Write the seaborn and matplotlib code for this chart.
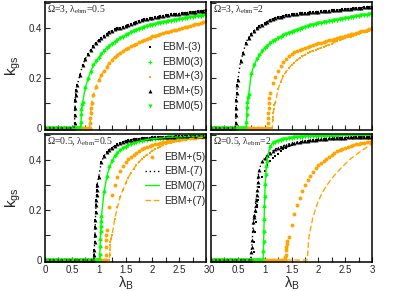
import numpy as np
import pandas as pd
import matplotlib
matplotlib.use("Agg")
import matplotlib.pyplot as plt
import seaborn as sns
from matplotlib.ticker import MultipleLocator, FuncFormatter

# lambda_B sampling grid shared by all curves (0 .. 3, step 0.05)
lam = np.round(np.linspace(0, 3, 61), 3)

# ---------------- Omega=3, lambda_ebm=0.5 ----------------
tl_black = [0, 0, 0, 0, 0, 0, 0, 0, 0, 0, 0,
            0.02, 0.17, 0.21, 0.25, 0.275, 0.295, 0.31, 0.325, 0.34, 0.35,
            0.36, 0.368, 0.376, 0.382, 0.388, 0.393, 0.397, 0.40, 0.404, 0.408,
            0.412, 0.416, 0.42, 0.424, 0.428, 0.431, 0.434, 0.436, 0.438, 0.44,
            0.442, 0.444, 0.446, 0.448, 0.45, 0.452, 0.453, 0.454, 0.455, 0.456,
            0.458, 0.459, 0.46, 0.461, 0.463, 0.464, 0.466, 0.467, 0.468, 0.47]
tl_black_jx = [0.54, 0.555, 0.56, 0.565, 0.57, 0.58]
tl_black_jy = [0.0, 0.05, 0.08, 0.11, 0.13, 0.15]

tl_green = [0, 0, 0, 0, 0, 0, 0, 0, 0, 0, 0, 0, 0, 0,
            0.10, 0.16, 0.195, 0.225, 0.25, 0.265, 0.28, 0.295, 0.307, 0.318,
            0.328, 0.336, 0.344, 0.351, 0.358, 0.364, 0.37, 0.376, 0.381, 0.386,
            0.391, 0.396, 0.40, 0.403, 0.406, 0.409, 0.412, 0.415, 0.417, 0.42,
            0.422, 0.424, 0.426, 0.428, 0.43, 0.432, 0.434, 0.436, 0.438, 0.44,
            0.441, 0.443, 0.445, 0.446, 0.448, 0.449, 0.45]
tl_green_jx = [0.66, 0.67, 0.675, 0.68, 0.69]
tl_green_jy = [0.0, 0.02, 0.05, 0.07, 0.09]

tl_orange = [0, 0, 0, 0, 0, 0, 0, 0, 0, 0, 0, 0, 0, 0, 0, 0, 0,
             0.06, 0.13, 0.165, 0.19, 0.21, 0.228, 0.245, 0.26, 0.272, 0.283,
             0.292, 0.30, 0.307, 0.314, 0.32, 0.326, 0.331, 0.336, 0.341, 0.346,
             0.351, 0.356, 0.36, 0.365, 0.368, 0.372, 0.375, 0.378, 0.381, 0.384,
             0.387, 0.39, 0.392, 0.395, 0.398, 0.401, 0.404, 0.407, 0.41, 0.413,
             0.416, 0.419, 0.422, 0.425]
tl_orange_jx = [0.83, 0.84, 0.845, 0.86, 0.87]
tl_orange_jy = [0.0, 0.02, 0.04, 0.08, 0.10]

# ---------------- Omega=3, lambda_ebm=2 ----------------
tr_black = [0, 0, 0, 0, 0, 0, 0, 0, 0, 0,
            0.19, 0.265, 0.30, 0.34, 0.36, 0.376, 0.387, 0.397, 0.405, 0.412,
            0.418, 0.424, 0.43, 0.434, 0.438, 0.441, 0.444, 0.447, 0.449, 0.451,
            0.453, 0.455, 0.456, 0.457, 0.458, 0.459, 0.46, 0.461, 0.462, 0.463,
            0.464, 0.465, 0.466, 0.467, 0.468, 0.469, 0.47, 0.471, 0.472, 0.473,
            0.474, 0.475, 0.476, 0.477, 0.478, 0.479, 0.48, 0.481, 0.482, 0.483,
            0.484]
tr_black_jx = [0.46, 0.465, 0.47, 0.475, 0.48, 0.49]
tr_black_jy = [0.02, 0.05, 0.08, 0.11, 0.14, 0.17]

tr_green = [0, 0, 0, 0, 0, 0, 0, 0, 0, 0, 0, 0, 0, 0,
            0.13, 0.215, 0.25, 0.273, 0.29, 0.305, 0.318, 0.328, 0.337, 0.345,
            0.352, 0.358, 0.364, 0.37, 0.375, 0.38, 0.384, 0.388, 0.392, 0.396,
            0.40, 0.403, 0.406, 0.409, 0.412, 0.415, 0.417, 0.419, 0.421, 0.423,
            0.425, 0.427, 0.429, 0.431, 0.433, 0.435, 0.437, 0.439, 0.441, 0.443,
            0.445, 0.447, 0.449, 0.45, 0.452, 0.453, 0.455]
tr_green_jx = [0.66, 0.665, 0.67, 0.68, 0.69]
tr_green_jy = [0.02, 0.05, 0.08, 0.10, 0.12]

tr_orange_hi = [0, 0, 0, 0, 0, 0, 0, 0, 0, 0, 0, 0, 0, 0, 0, 0, 0, 0, 0, 0, 0, 0,
                0.14, 0.18, 0.205, 0.228, 0.248, 0.264, 0.276, 0.286, 0.294, 0.301,
                0.307, 0.312, 0.316, 0.32, 0.324, 0.328, 0.331, 0.334, 0.337, 0.34,
                0.343, 0.346, 0.349, 0.352, 0.355, 0.358, 0.361, 0.364, 0.367, 0.37,
                0.373, 0.376, 0.379, 0.382, 0.385, 0.388, 0.391, 0.394, 0.397]
tr_orange_hi_jx = [1.06, 1.065, 1.07, 1.075, 1.08, 1.09]
tr_orange_hi_jy = [0.02, 0.04, 0.06, 0.08, 0.10, 0.12]

tr_orange_lo = [0, 0, 0, 0, 0, 0, 0, 0, 0, 0, 0, 0, 0, 0, 0, 0, 0, 0, 0, 0, 0, 0, 0,
                0.03, 0.10, 0.155, 0.185, 0.207, 0.225, 0.238, 0.25, 0.26, 0.27,
                0.278, 0.285, 0.292, 0.298, 0.303, 0.308, 0.312, 0.316, 0.32, 0.324,
                0.328, 0.332, 0.336, 0.341, 0.345, 0.349, 0.353, 0.357, 0.361, 0.364,
                0.368, 0.371, 0.375, 0.378, 0.381, 0.384, 0.387, 0.39]
tr_orange_lo_jx = [1.14, 1.155, 1.16, 1.17, 1.18]
tr_orange_lo_jy = [0.0, 0.045, 0.06, 0.075, 0.09]

# ---------------- Omega=0.5, lambda_ebm=0.5 ----------------
bl_black = [0, 0, 0, 0, 0, 0, 0, 0, 0, 0, 0, 0, 0, 0, 0, 0, 0, 0, 0,
            0.22, 0.33, 0.39, 0.415, 0.43, 0.44, 0.448, 0.455, 0.461, 0.466,
            0.47, 0.474, 0.477, 0.479, 0.481, 0.483, 0.484, 0.485, 0.486, 0.487,
            0.488, 0.489, 0.489, 0.49, 0.49, 0.491, 0.491, 0.492, 0.492, 0.492,
            0.493, 0.493, 0.493, 0.494, 0.494, 0.494, 0.494, 0.495, 0.495, 0.495,
            0.495, 0.495]
bl_black_jx = [0.91, 0.915, 0.92, 0.925, 0.93, 0.935, 0.94, 0.945, 0.955, 0.96, 0.965, 0.97]
bl_black_jy = [0.0, 0.02, 0.04, 0.07, 0.10, 0.13, 0.16, 0.19, 0.24, 0.26, 0.28, 0.30]

bl_green = [0, 0, 0, 0, 0, 0, 0, 0, 0, 0, 0, 0, 0, 0, 0, 0, 0, 0, 0, 0, 0,
            0.17, 0.27, 0.33, 0.37, 0.395, 0.413, 0.427, 0.437, 0.445, 0.452,
            0.457, 0.462, 0.466, 0.47, 0.473, 0.476, 0.478, 0.48, 0.482, 0.483,
            0.484, 0.485, 0.486, 0.487, 0.488, 0.489, 0.489, 0.49, 0.49, 0.491,
            0.491, 0.492, 0.492, 0.493, 0.493, 0.493, 0.494, 0.494, 0.494, 0.495]
bl_green_jx = [1.01, 1.02, 1.025, 1.03, 1.035, 1.04, 1.045]
bl_green_jy = [0.0, 0.02, 0.05, 0.08, 0.11, 0.13, 0.15]

bl_orange_hi = [0, 0, 0, 0, 0, 0, 0, 0, 0, 0, 0, 0, 0, 0, 0, 0, 0, 0, 0, 0, 0, 0, 0,
                0.12, 0.21, 0.26, 0.30, 0.33, 0.355, 0.373, 0.39, 0.402, 0.412,
                0.42, 0.428, 0.435, 0.441, 0.446, 0.45, 0.454, 0.458, 0.461, 0.464,
                0.467, 0.469, 0.471, 0.473, 0.475, 0.477, 0.479, 0.48, 0.482, 0.483,
                0.485, 0.486, 0.487, 0.488, 0.489, 0.49, 0.491, 0.492]
bl_orange_hi_jx = [1.12, 1.13, 1.135, 1.14, 1.145]
bl_orange_hi_jy = [0.0, 0.02, 0.05, 0.08, 0.10]

bl_orange_lo = [0, 0, 0, 0, 0, 0, 0, 0, 0, 0, 0, 0, 0, 0, 0, 0, 0, 0, 0, 0, 0, 0, 0, 0, 0,
                0.10, 0.165, 0.21, 0.25, 0.278, 0.305, 0.328, 0.347, 0.363, 0.378,
                0.39, 0.401, 0.411, 0.42, 0.428, 0.435, 0.441, 0.447, 0.452, 0.457,
                0.461, 0.465, 0.468, 0.471, 0.474, 0.476, 0.478, 0.48, 0.482, 0.484,
                0.485, 0.486, 0.487, 0.488, 0.489, 0.49]
bl_orange_lo_jx = [1.205, 1.21, 1.215, 1.22, 1.23]
bl_orange_lo_jy = [0.02, 0.04, 0.06, 0.07, 0.085]

# ---------------- Omega=0.5, lambda_ebm=2 ----------------
br_black = [0, 0, 0, 0, 0, 0, 0, 0, 0, 0, 0, 0, 0, 0, 0,
            0.03, 0.17, 0.26, 0.36, 0.393, 0.405, 0.417, 0.427, 0.435, 0.441,
            0.447, 0.451, 0.455, 0.459, 0.462, 0.465, 0.467, 0.469, 0.471, 0.473,
            0.475, 0.476, 0.478, 0.479, 0.48, 0.481, 0.482, 0.483, 0.484, 0.485,
            0.485, 0.486, 0.487, 0.487, 0.488, 0.488, 0.489, 0.489, 0.49, 0.49,
            0.49, 0.491, 0.491, 0.491, 0.492, 0.492]
br_black_jx = [0.74, 0.76, 0.77, 0.78, 0.79, 0.81, 0.82, 0.83, 0.84, 0.86, 0.87, 0.88]
br_black_jy = [0.0, 0.05, 0.08, 0.12, 0.15, 0.18, 0.20, 0.22, 0.24, 0.28, 0.31, 0.335]

br_black_sq = [0, 0, 0, 0, 0, 0, 0, 0, 0, 0, 0, 0, 0, 0, 0, 0,
               0.03, 0.22, 0.29, 0.33, 0.355, 0.377, 0.393, 0.405, 0.414, 0.424,
               0.433, 0.441, 0.448, 0.453, 0.458, 0.462, 0.465, 0.468, 0.47, 0.472,
               0.474, 0.476, 0.477, 0.478, 0.479, 0.48, 0.481, 0.482, 0.483, 0.484,
               0.484, 0.485, 0.486, 0.486, 0.487, 0.487, 0.488, 0.488, 0.489, 0.489,
               0.49, 0.49, 0.49, 0.491, 0.491]
br_black_sq_jx = [0.79, 0.81, 0.82, 0.83, 0.84, 0.86, 0.87]
br_black_sq_jy = [0.0, 0.07, 0.11, 0.15, 0.19, 0.21, 0.24]

br_green = [0, 0, 0, 0, 0, 0, 0, 0, 0, 0, 0, 0, 0, 0, 0, 0, 0, 0, 0, 0,
            0.25, 0.41, 0.452, 0.466, 0.472, 0.476, 0.479, 0.482, 0.484, 0.486,
            0.488, 0.489, 0.49, 0.491, 0.492, 0.493, 0.494, 0.494, 0.494, 0.495,
            0.495, 0.495, 0.495, 0.496, 0.496, 0.496, 0.496, 0.496, 0.497, 0.497,
            0.497, 0.497, 0.497, 0.497, 0.498, 0.498, 0.498, 0.498, 0.498, 0.498,
            0.498]
br_green_jx = [0.97, 0.975, 0.98, 0.985, 0.99, 0.995, 1.01, 1.02, 1.03, 1.04]
br_green_jy = [0.0, 0.03, 0.07, 0.11, 0.16, 0.21, 0.30, 0.34, 0.37, 0.39]

br_orange_hi = [0, 0, 0, 0, 0, 0, 0, 0, 0, 0, 0, 0, 0, 0, 0, 0, 0, 0, 0, 0, 0, 0, 0, 0, 0, 0, 0, 0,
                0.04, 0.09, 0.14, 0.185, 0.22, 0.248, 0.273, 0.297, 0.318, 0.336,
                0.352, 0.365, 0.377, 0.387, 0.396, 0.404, 0.411, 0.419, 0.426, 0.433,
                0.439, 0.443, 0.447, 0.451, 0.455, 0.458, 0.461, 0.464, 0.466, 0.468,
                0.47, 0.472, 0.474]
br_orange_hi_jx = [1.37, 1.38, 1.39, 1.405, 1.41, 1.42]
br_orange_hi_jy = [0.0, 0.01, 0.02, 0.05, 0.065, 0.075]

br_orange_lo = [0, 0, 0, 0, 0, 0, 0, 0, 0, 0, 0, 0, 0, 0, 0, 0, 0, 0,
                0, 0, 0, 0, 0, 0, 0, 0, 0, 0, 0, 0, 0, 0, 0, 0, 0, 0,
                0.02, 0.12, 0.17, 0.205, 0.235, 0.258, 0.278, 0.295, 0.31, 0.324,
                0.337, 0.349, 0.361, 0.372, 0.383, 0.393, 0.403, 0.411, 0.419, 0.427,
                0.435, 0.442, 0.449, 0.456, 0.463]
br_orange_lo_jx = [1.79, 1.81, 1.82, 1.83]
br_orange_lo_jy = [0.0, 0.05, 0.08, 0.10]


def curve(y, jx, jy):
    assert len(y) == len(lam)
    df = pd.DataFrame({"lam": np.concatenate([lam, jx]),
                       "k": np.concatenate([y, jy])})
    return df.sort_values("lam", kind="stable").reset_index(drop=True)


tl = dict(black=curve(tl_black, tl_black_jx, tl_black_jy),
          green=curve(tl_green, tl_green_jx, tl_green_jy),
          orange=curve(tl_orange, tl_orange_jx, tl_orange_jy))
tl.update(black_sq=tl["black"], orange_hi=tl["orange"], orange_lo=tl["orange"], sq=tl["orange"])

tr = dict(black=curve(tr_black, tr_black_jx, tr_black_jy),
          green=curve(tr_green, tr_green_jx, tr_green_jy),
          orange_hi=curve(tr_orange_hi, tr_orange_hi_jx, tr_orange_hi_jy),
          orange_lo=curve(tr_orange_lo, tr_orange_lo_jx, tr_orange_lo_jy))
tr.update(black_sq=tr["black"], sq=tr["orange_lo"])

bl = dict(black=curve(bl_black, bl_black_jx, bl_black_jy),
          green=curve(bl_green, bl_green_jx, bl_green_jy),
          orange_hi=curve(bl_orange_hi, bl_orange_hi_jx, bl_orange_hi_jy),
          orange_lo=curve(bl_orange_lo, bl_orange_lo_jx, bl_orange_lo_jy))
bl.update(black_sq=bl["black"], sq=bl["orange_lo"])

br = dict(black=curve(br_black, br_black_jx, br_black_jy),
          black_sq=curve(br_black_sq, br_black_sq_jx, br_black_sq_jy),
          green=curve(br_green, br_green_jx, br_green_jy),
          orange_hi=curve(br_orange_hi, br_orange_hi_jx, br_orange_hi_jy),
          orange_lo=curve(br_orange_lo, br_orange_lo_jx, br_orange_lo_jy))
br.update(sq=br["orange_hi"])

sns.set_style("ticks")
plt.rcParams["font.family"] = ["Liberation Sans", "DejaVu Sans"]
plt.rcParams["mathtext.fontset"] = "custom"
plt.rcParams["mathtext.rm"] = "Liberation Serif"
plt.rcParams["mathtext.it"] = "Liberation Serif:italic"
plt.rcParams["mathtext.sf"] = "Liberation Sans"

BLACK, GREEN, ORANGE = "black", "#00ff00", "#ffa500"

fig = plt.figure(figsize=(4.11, 2.91), dpi=100)
W, H = 411, 291
AH = 128  # panel height in pixels
boxes = {"tl": [45, 2], "tr": [211, 2], "bl": [45, 134], "br": [211, 134]}
texts = {"tl": r"$\Omega$=3, $\mathrm{\lambda}_{\mathrm{ebm}}$=0.5",
         "tr": r"$\Omega$=3, $\mathrm{\lambda}_{\mathrm{ebm}}$=2",
         "bl": r"$\Omega$=0.5, $\mathrm{\lambda}_{\mathrm{ebm}}$=0.5",
         "br": r"$\Omega$=0.5, $\mathrm{\lambda}_{\mathrm{ebm}}$=2"}
data = {"tl": tl, "tr": tr, "bl": bl, "br": br}

fmt = FuncFormatter(lambda v, p: f"{v:g}")

for key in ["tl", "tr", "bl", "br"]:
    px, py = boxes[key]
    ax = fig.add_axes([px / W, 1 - (py + AH) / H, 161 / W, AH / H])
    d = data[key]
    top = key == "tl"
    bot = key == "bl"

    # lines
    sns.lineplot(data=d["orange_lo"], x="lam", y="k", ax=ax, color=ORANGE, lw=1.0,
                 dashes=False, linestyle=(0, (4, 2)), estimator=None,
                 label="EBM+(7)" if bot else None)
    sns.lineplot(data=d["green"], x="lam", y="k", ax=ax, color=GREEN, lw=1.0,
                 estimator=None, label="EBM0(7)" if bot else None)
    sns.lineplot(data=d["black"], x="lam", y="k", ax=ax, color=BLACK, lw=1.0,
                 linestyle=(0, (1, 2)), estimator=None,
                 label="EBM-(7)" if bot else None)

    # markers
    sns.scatterplot(data=d["orange_hi"], x="lam", y="k", ax=ax, marker="o", s=8,
                    color=ORANGE, linewidth=0, label="EBM+(5)" if bot else None)
    sns.scatterplot(data=d["sq"], x="lam", y="k", ax=ax, marker="s", s=4,
                    color=ORANGE, linewidth=0, label="EBM+(3)" if top else None)
    sns.scatterplot(data=d["green"], x="lam", y="k", ax=ax, marker="v", s=9,
                    color=GREEN, linewidth=0, label="EBM0(5)" if top else None)
    sns.scatterplot(data=d["green"], x="lam", y="k", ax=ax, marker="+", s=10,
                    color=GREEN, linewidth=0.8, label="EBM0(3)" if top else None)
    sns.scatterplot(data=d["black"], x="lam", y="k", ax=ax, marker="^", s=8,
                    color=BLACK, linewidth=0, label="EBM+(5)" if top else None)
    sns.scatterplot(data=d["black_sq"], x="lam", y="k", ax=ax, marker="s", s=4,
                    color=BLACK, linewidth=0, label="EBM-(3)" if top else None)

    ax.set_xlim(0, 3)
    ax.set_ylim(-0.008, 0.502)
    ax.xaxis.set_major_locator(MultipleLocator(0.5))
    ax.xaxis.set_minor_locator(MultipleLocator(0.25))
    ax.yaxis.set_major_locator(MultipleLocator(0.2))
    ax.yaxis.set_minor_locator(MultipleLocator(0.1))
    ax.xaxis.set_major_formatter(fmt)
    ax.yaxis.set_major_formatter(fmt)
    ax.tick_params(which="both", direction="in", top=False, right=False,
                   width=0.8, labelsize=7, pad=2)
    ax.tick_params(which="major", length=3.5)
    ax.tick_params(which="minor", length=3.5)
    for sp in ax.spines.values():
        sp.set_linewidth(1.1)
        sp.set_color("black")

    if key in ("tl", "bl"):
        ax.set_ylabel(r"$\mathsf{k}_{\mathsf{gs}}$", fontsize=11, labelpad=4)
    else:
        ax.set_ylabel("")
        ax.tick_params(labelleft=False)
    if key in ("tl", "tr"):
        ax.set_xlabel("")
        ax.tick_params(labelbottom=False)
    else:
        ax.set_xlabel(r"$\mathsf{\lambda}_{\mathsf{B}}$", fontsize=10.5, labelpad=0)

    ax.text(0.015, 0.985, texts[key], transform=ax.transAxes, ha="left", va="top",
            fontsize=7, family="Liberation Serif")

    leg = ax.get_legend()
    if leg is not None:
        leg.remove()
    handles, labels = ax.get_legend_handles_labels()
    if top:
        order = ["EBM-(3)", "EBM0(3)", "EBM+(3)", "EBM+(5)", "EBM0(5)"]
        anchor = (0.985, 0.42)
    elif bot:
        order = ["EBM+(5)", "EBM-(7)", "EBM0(7)", "EBM+(7)"]
        anchor = (0.995, 0.65)
    else:
        continue
    hmap = dict(zip(labels, handles))
    ax.legend([hmap[o] for o in order], order, loc="center right",
              bbox_to_anchor=anchor, frameon=False, fontsize=7.5,
              handlelength=1.3, handletextpad=0.5, labelspacing=0.45,
              borderaxespad=0, borderpad=0)

fig.savefig("out.png", dpi=100)
